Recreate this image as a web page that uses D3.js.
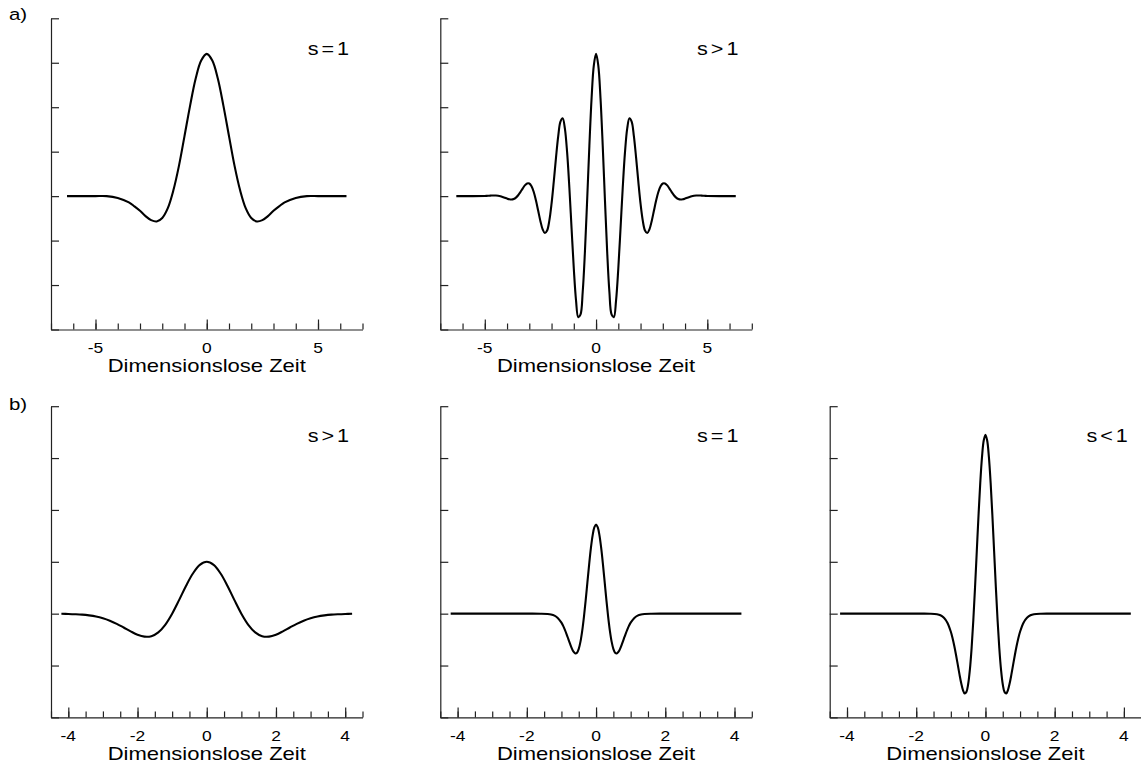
<!DOCTYPE html>
<html>
<head>
<meta charset="utf-8">
<script src="https://cdn.jsdelivr.net/npm/d3@7"></script>
<style>
  html, body { margin: 0; padding: 0; background: #fff; }
  svg { display: block; }
  text { font-family: "Liberation Sans", Arial, Helvetica, sans-serif; fill: #000; }
</style>
</head>
<body>
<svg id="chart" width="1141" height="768"></svg>
<script>
// ---- Row a): wavelet samples over dimensionless time ----
const timeA1 = [-6.28,-5.5,-5,-4.5,-4,-3.5,-3.25,-3,-2.75,-2.5,-2.25,-2,-1.75,-1.5,-1.25,-1,-0.75,-0.5,-0.25,
  0,0.25,0.5,0.75,1,1.25,1.5,1.75,2,2.25,2.5,2.75,3,3.25,3.5,4,4.5,5,5.5,6.28];
const valueA1 = [0,0,0,0,-0.04,-0.14,-0.23,-0.33,-0.45,-0.54,-0.57,-0.49,-0.27,0.13,0.68,1.35,2.03,2.64,3.05,
  3.2,3.05,2.64,2.03,1.35,0.68,0.13,-0.27,-0.49,-0.57,-0.54,-0.45,-0.33,-0.23,-0.14,-0.04,0,0,0,0];

const timeA2 = [-6.28,-5.6,-5,-4.9,-4.8,-4.7,-4.6,-4.5,-4.4,-4.3,-4.2,-4.1,-4,-3.9,-3.8,-3.7,-3.6,-3.5,-3.4,-3.3,-3.2,-3.1,
  -3,-2.9,-2.8,-2.7,-2.6,-2.5,-2.4,-2.3,-2.2,-2.1,-2,-1.9,-1.8,-1.7,-1.6,-1.5,-1.4,-1.3,-1.2,-1.1,
  -1,-0.9,-0.8,-0.7,-0.6,-0.5,-0.4,-0.3,-0.2,-0.1,0,0.1,0.2,0.3,0.4,0.5,0.6,0.7,0.8,0.9,
  1,1.1,1.2,1.3,1.4,1.5,1.6,1.7,1.8,1.9,2,2.1,2.2,2.3,2.4,2.5,2.6,2.7,2.8,2.9,
  3,3.1,3.2,3.3,3.4,3.5,3.6,3.7,3.8,3.9,4,4.1,4.2,4.3,4.4,4.5,4.6,4.7,4.8,4.9,5,5.6,6.28];
const valueA2 = [0,0,0.003,0.006,0.009,0.013,0.015,0.013,0.008,-0.002,-0.018,-0.037,-0.056,-0.071,-0.076,-0.064,-0.033,0.02,0.091,0.169,0.241,0.286,
  0.285,0.222,0.092,-0.1,-0.331,-0.563,-0.747,-0.831,-0.774,-0.552,-0.171,0.326,0.866,1.351,1.676,1.751,1.52,0.983,0.195,-0.727,
  -1.629,-2.344,-2.722,-2.667,-2.157,-1.251,-0.09,1.134,2.207,2.94,3.2,2.94,2.207,1.134,-0.09,-1.251,-2.157,-2.667,-2.722,-2.344,
  -1.629,-0.727,0.195,0.983,1.52,1.751,1.676,1.351,0.866,0.326,-0.171,-0.552,-0.774,-0.831,-0.747,-0.563,-0.331,-0.1,0.092,0.222,
  0.285,0.286,0.241,0.169,0.091,0.02,-0.033,-0.064,-0.076,-0.071,-0.056,-0.037,-0.018,-0.002,0.008,0.013,0.015,0.013,0.009,0.006,0.003,0,0];

// ---- Row b): Mexican-hat samples at three scales ----
const timeB1 = [-4.2,-4,-3.8,-3.6,-3.4,-3.2,-3,-2.8,-2.6,-2.4,-2.2,-2,-1.8,-1.6,-1.4,-1.2,-1,-0.8,-0.6,-0.4,-0.2,
  0,0.2,0.4,0.6,0.8,1,1.2,1.4,1.6,1.8,2,2.2,2.4,2.6,2.8,3,3.2,3.4,3.6,3.8,4,4.2];
const valueB1 = [-0.002,-0.005,-0.01,-0.018,-0.033,-0.055,-0.089,-0.136,-0.196,-0.267,-0.341,-0.406,-0.443,-0.434,-0.36,-0.214,0,0.261,0.535,0.775,0.941,
  1,0.941,0.775,0.535,0.261,0,-0.214,-0.36,-0.434,-0.443,-0.406,-0.341,-0.267,-0.196,-0.136,-0.089,-0.055,-0.033,-0.018,-0.01,-0.005,-0.002];

const timeB23 = [-4.2,-3,-2,-1.6,-1.4,-1.3,-1.2,-1.1,-1,-0.95,-0.9,-0.85,-0.8,-0.75,-0.7,-0.65,-0.6,-0.55,-0.5,-0.45,-0.4,-0.35,-0.3,-0.25,-0.2,-0.15,-0.1,-0.05,
  0,0.05,0.1,0.15,0.2,0.25,0.3,0.35,0.4,0.45,0.5,0.55,0.6,0.65,0.7,0.75,0.8,0.85,0.9,0.95,1,1.1,1.2,1.3,1.4,1.6,2,3,4.2];
const valueB2 = [0,0,0,-0.001,-0.006,-0.016,-0.039,-0.087,-0.174,-0.236,-0.311,-0.397,-0.49,-0.584,-0.669,-0.734,-0.767,-0.752,-0.678,-0.539,-0.331,-0.06,0.258,0.603,0.946,1.257,1.505,1.665,
  1.72,1.665,1.505,1.257,0.946,0.603,0.258,-0.06,-0.331,-0.539,-0.678,-0.752,-0.767,-0.734,-0.669,-0.584,-0.49,-0.397,-0.311,-0.236,-0.174,-0.087,-0.039,-0.016,-0.006,-0.001,0,0,0];
const valueB3 = [0,0,0,-0.001,-0.011,-0.031,-0.078,-0.174,-0.349,-0.474,-0.624,-0.796,-0.983,-1.171,-1.342,-1.473,-1.538,-1.508,-1.361,-1.08,-0.663,-0.121,0.518,1.209,1.898,2.521,3.018,3.339,
  3.45,3.339,3.018,2.521,1.898,1.209,0.518,-0.121,-0.663,-1.08,-1.361,-1.508,-1.538,-1.473,-1.342,-1.171,-0.983,-0.796,-0.624,-0.474,-0.349,-0.174,-0.078,-0.031,-0.011,-0.001,0,0,0];

// ---- Axis ticks ----
const xDomainA = [-7, 7];
const xMajorA = [-5, 0, 5];
const xMinorA = [-7,-6,-5,-4,-3,-2,-1,0,1,2,3,4,5,6,7];
const yDomainA = [-3, 4];
const yTicksA = [-3,-2,-1,0,1,2,3,4];

const xDomainB = [-4.5, 4.5];
const xMajorB = [-4, -2, 0, 2, 4];
const xMinorB = [-4.5,-4,-3.5,-3,-2.5,-2,-1.5,-1,-0.5,0,0.5,1,1.5,2,2.5,3,3.5,4,4.5];
const yDomainB = [-2, 4];
const yTicksB = [-2,-1,0,1,2,3,4];

const scaleLabels = ["s = 1", "s > 1", "s > 1", "s = 1", "s < 1"];
const rowLabels = ["a)", "b)"];
const axisTitle = "Dimensionslose Zeit";

// ---- Layout ----
const W = 311.5, H = 311.2;
const colX = [51, 440.3, 829.7];
const rowY = [18.3, 406.2];

const panels = [
  { col: 0, row: 0, t: timeA1, v: valueA1, label: scaleLabels[0] },
  { col: 1, row: 0, t: timeA2, v: valueA2, label: scaleLabels[1] },
  { col: 0, row: 1, t: timeB1, v: valueB1, label: scaleLabels[2] },
  { col: 1, row: 1, t: timeB23, v: valueB2, label: scaleLabels[3] },
  { col: 2, row: 1, t: timeB23, v: valueB3, label: scaleLabels[4] }
];

const svg = d3.select("#chart");
svg.append("rect").attr("width", 1141).attr("height", 768).attr("fill", "#fff");

// Text drawn with a horizontal stretch, as in the printed figure
function stretched(g, x, y, str, size, sx, anchor) {
  return g.append("text")
    .attr("transform", `translate(${x},${y}) scale(${sx},1)`)
    .attr("text-anchor", anchor)
    .style("font-size", size + "px")
    .text(str);
}

const axisColor = "#222";

panels.forEach(p => {
  const x0 = colX[p.col], y0 = rowY[p.row];
  const isA = p.row === 0;
  const x = d3.scaleLinear().domain(isA ? xDomainA : xDomainB).range([x0, x0 + W]);
  const y = d3.scaleLinear().domain(isA ? yDomainA : yDomainB).range([y0 + H, y0]);
  const g = svg.append("g");

  // y axis with inward ticks, no labels
  const yAx = g.append("g").attr("transform", `translate(${x0},0)`)
    .call(d3.axisRight(y).tickValues(isA ? yTicksA : yTicksB).tickSize(8).tickSizeOuter(0).tickFormat(""));
  // x axis: minor then major ticks, pointing up
  const xMin = g.append("g").attr("transform", `translate(0,${y0 + H})`)
    .call(d3.axisBottom(x).tickValues(isA ? xMinorA : xMinorB).tickSize(-6).tickSizeOuter(0).tickFormat(""));
  xMin.select(".domain").remove();
  const xMaj = g.append("g").attr("transform", `translate(0,${y0 + H})`)
    .call(d3.axisBottom(x).tickValues(isA ? xMajorA : xMajorB).tickSize(-10).tickSizeOuter(0).tickFormat(""));
  [yAx, xMin, xMaj].forEach(a => {
    a.selectAll("path, line").attr("stroke", axisColor).attr("stroke-width", 1.2);
  });

  // tick labels
  (isA ? xMajorA : xMajorB).forEach(v => {
    stretched(g, x(v), y0 + H + 23.8, String(v), 14.5, 1.2, "middle");
  });
  // axis title
  stretched(g, x(0), y0 + H + 42.3, axisTitle, 18.5, 1.19, "middle");

  // scale label
  stretched(g, x0 + W - 13.4, y0 + 36.2, p.label, 18, 1.2, "end").style("word-spacing", "-2.5px");

  // curve
  const pts = p.t.map((t, i) => [t, p.v[i]]);
  g.append("path")
    .datum(pts)
    .attr("fill", "none")
    .attr("stroke", "#000")
    .attr("stroke-width", 2.1)
    .attr("stroke-linejoin", "round")
    .attr("d", d3.line().x(d => x(d[0])).y(d => y(d[1])).curve(d3.curveCatmullRom.alpha(0.5)));
});

// row labels
stretched(svg, 9, 19.5, rowLabels[0], 17, 1.2, "start");
stretched(svg, 9, 409.5, rowLabels[1], 17, 1.2, "start");
</script>
</body>
</html>
